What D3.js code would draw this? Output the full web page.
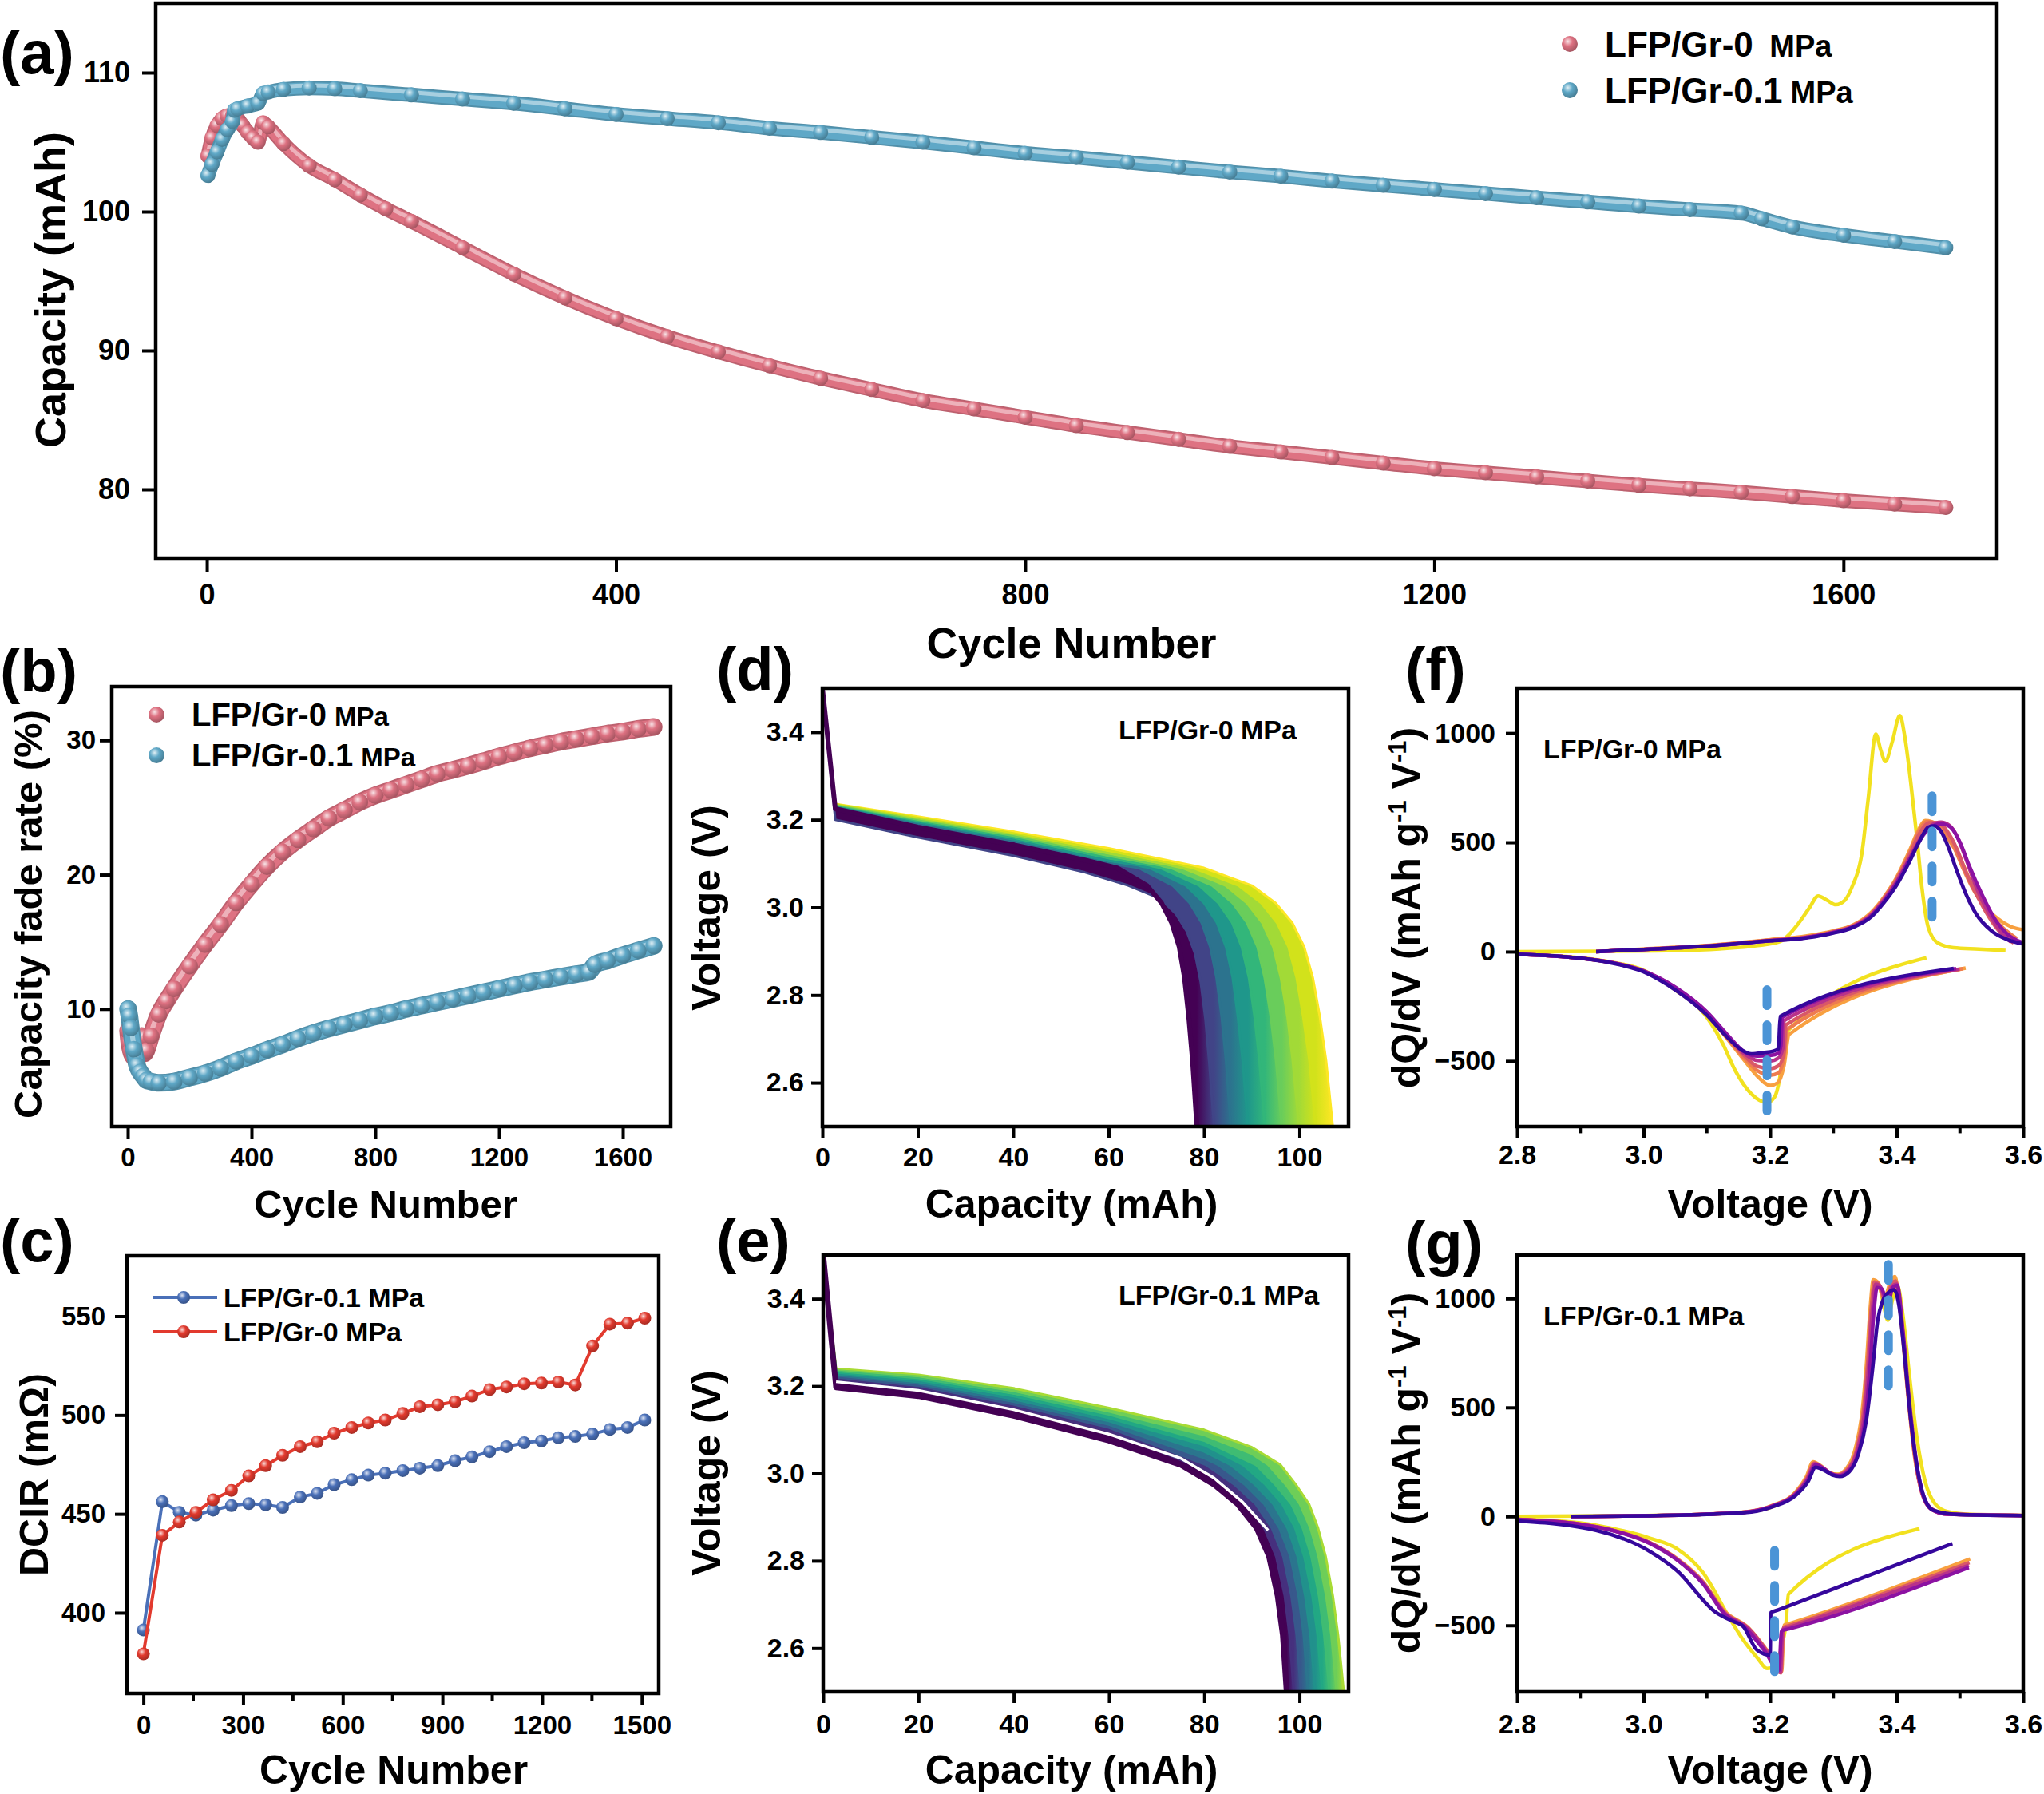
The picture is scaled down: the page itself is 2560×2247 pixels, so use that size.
<!DOCTYPE html>
<html>
<head>
<meta charset="utf-8">
<script src="https://cdn.jsdelivr.net/npm/d3@7"></script>
<style>
  body { margin: 0; background: #fff; }
</style>
</head>
<body>
<svg id="fig" width="2560" height="2247"></svg>
<script>
// ---------- data: (a) capacity vs cycle ----------
const aCycRed = [1,5,10,15,20,25,30,35,40,45,50,55,60,75,100,125,150,175,200,250,300,350,400,450,500,550,600,650,700,750,800,850,900,950,1000,1050,1100,1150,1200,1250,1300,1350,1400,1450,1500,1550,1600,1650,1700];
const aCapRed = [104.0,105.3,106.2,106.7,106.9,106.9,106.7,106.2,105.7,105.3,105.0,106.4,106.1,104.9,103.3,102.3,101.2,100.2,99.3,97.4,95.5,93.8,92.3,91.0,89.9,88.9,88.0,87.2,86.4,85.8,85.2,84.6,84.1,83.6,83.1,82.7,82.3,81.9,81.5,81.2,80.9,80.6,80.3,80.05,79.8,79.5,79.2,78.95,78.7];
const aCycBlue = [1,5,10,15,20,25,27,30,40,50,55,60,75,100,125,150,200,250,300,350,400,450,500,550,600,650,700,750,800,850,900,950,1000,1050,1100,1150,1200,1250,1300,1350,1400,1450,1500,1520,1550,1600,1650,1700];
const aCapBlue = [102.6,103.4,104.3,105.2,105.9,106.5,107.3,107.4,107.6,107.8,108.5,108.6,108.8,108.9,108.85,108.7,108.4,108.1,107.8,107.4,107.0,106.7,106.4,106.0,105.7,105.35,105.0,104.6,104.2,103.9,103.55,103.2,102.85,102.55,102.2,101.9,101.6,101.3,101.0,100.7,100.4,100.15,99.9,99.5,98.9,98.3,97.85,97.4];

// ---------- data: (b) capacity fade rate ----------
const bCycRed = [1,5,10,20,30,40,45,50,55,60,75,100,125,150,200,250,300,350,400,450,500,550,600,650,700,750,800,850,900,950,1000,1050,1100,1150,1200,1250,1300,1350,1400,1450,1500,1550,1600,1650,1700];
const bFadeRed = [8.4,7.5,6.9,6.4,6.3,6.8,8.0,7.9,6.7,6.9,8.0,9.6,10.6,11.5,13.2,14.8,16.3,17.9,19.3,20.6,21.7,22.6,23.4,24.2,24.8,25.4,25.9,26.3,26.7,27.1,27.5,27.8,28.1,28.45,28.8,29.1,29.4,29.65,29.9,30.1,30.3,30.5,30.65,30.85,31.0];
const bCycBlue = [1,5,10,20,30,40,50,60,75,100,150,200,250,300,350,400,450,500,550,600,650,700,750,800,850,900,950,1000,1050,1100,1150,1200,1250,1300,1350,1400,1450,1490,1510,1550,1600,1650,1700];
const bFadeBlue = [10.0,9.5,8.6,7.0,5.8,5.3,5.0,4.7,4.6,4.5,4.6,4.9,5.2,5.6,6.1,6.5,6.95,7.35,7.8,8.2,8.55,8.85,9.15,9.45,9.7,10.0,10.25,10.5,10.75,11.0,11.25,11.5,11.75,12.0,12.2,12.4,12.6,12.75,13.3,13.6,14.0,14.35,14.7];

// ---------- data: (c) DCIR ----------
const cCyc = [0,57,108,158,210,265,317,368,419,472,523,574,627,677,728,781,832,886,938,989,1042,1093,1146,1198,1249,1300,1352,1404,1457,1509];
const cDcirBlue = [391.3,456.2,450.8,449.4,451.9,454.2,455.2,454.6,453.3,458.5,460.4,464.8,467.3,469.6,470.6,471.9,473.1,474.4,476.9,478.8,481.5,484.0,486.0,486.9,488.5,489.2,490.4,492.7,493.7,497.5];
const cDcirRed = [379.2,439.2,445.9,450.8,457.1,461.9,469.2,474.4,479.6,484.0,486.5,490.8,493.7,496.0,497.5,500.8,504.2,505.2,506.7,509.6,512.9,514.2,515.8,516.2,516.7,515.2,535.0,546.0,546.5,549.0];

// ---------- data: (d) discharge curves, 0 MPa (last cycle first) ----------
const dCurves = [
  [[0,3.5],[2.7,3.225],[20,3.183],[40,3.143],[55,3.108],[61.8,3.09],[68,3.05],[71.1,3.01],[73.2,2.965],[74.8,2.91],[75.9,2.84],[76.8,2.75],[77.6,2.65],[78.5,2.5]],
  [[0,3.5],[2.7,3.2],[20,3.16],[40,3.118],[55,3.08],[64.1,3.05],[70.8,3.02],[74.1,2.985],[76.4,2.945],[78.1,2.895],[79.3,2.83],[80.3,2.745],[81.1,2.645],[82.1,2.5]],
  [[0,3.5],[2.7,3.228],[20,3.189],[40,3.15],[60,3.1],[66.3,3.09],[73.4,3.05],[77,3.01],[79.5,2.965],[81.3,2.91],[82.6,2.84],[83.7,2.75],[84.6,2.65],[85.6,2.5]],
  [[0,3.5],[2.7,3.229],[20,3.192],[40,3.154],[60,3.106],[68.6,3.09],[76.2,3.05],[80,3.01],[82.7,2.965],[84.6,2.91],[86,2.84],[87.1,2.75],[88.1,2.65],[89.2,2.5]],
  [[0,3.5],[2.7,3.23],[20,3.195],[40,3.158],[60,3.112],[70.9,3.09],[79,3.05],[83,3.01],[85.9,2.965],[87.9,2.91],[89.4,2.84],[90.6,2.75],[91.6,2.65],[92.75,2.5]],
  [[0,3.5],[2.7,3.232],[20,3.198],[40,3.162],[60,3.117],[73.1,3.09],[81.7,3.05],[86,3.01],[89,2.965],[91.2,2.91],[92.7,2.84],[94,2.75],[95.1,2.65],[96.3,2.5]],
  [[0,3.5],[2.7,3.233],[20,3.201],[40,3.165],[60,3.123],[75.5,3.09],[84.5,3.05],[89,3.01],[92.2,2.965],[94.5,2.91],[96.1,2.84],[97.5,2.75],[98.6,2.65],[99.9,2.5]],
  [[0,3.5],[2.7,3.235],[20,3.204],[40,3.169],[60,3.129],[77.7,3.09],[87.2,3.05],[92,3.01],[95.3,2.965],[97.7,2.91],[99.4,2.84],[100.8,2.75],[102.1,2.65],[103.4,2.5]],
  [[0,3.5],[2.7,3.236],[20,3.207],[40,3.173],[60,3.135],[80,3.09],[90,3.05],[95,3.01],[98.5,2.965],[101,2.91],[102.8,2.84],[104.3,2.75],[105.6,2.65],[107,2.5]]
];
// colour position (viridis) of each (d) curve
const dColorPos = [0, 0.2, 0.38, 0.53, 0.66, 0.77, 0.86, 0.93, 1.0];

// ---------- data: (e) discharge curves, 0.1 MPa ----------
const eCurves = [
  [[0,3.5],[2.7,3.197],[20,3.177],[40,3.132],[60,3.075],[75,3.02],[82,2.975],[87,2.93],[91,2.875],[93.6,2.81],[95.4,2.72],[96.5,2.63],[97.3,2.5]],
  [[0,3.5],[2.7,3.215],[20,3.195],[40,3.152],[60,3.097],[77.6,3.02],[84.2,2.975],[88.9,2.93],[92.6,2.875],[95.1,2.81],[96.9,2.72],[97.9,2.63],[98.8,2.5]],
  [[0,3.5],[2.7,3.219],[20,3.2],[40,3.158],[60,3.105],[80.3,3.02],[86.3,2.975],[90.8,2.93],[94.2,2.875],[96.6,2.81],[98.3,2.72],[99.4,2.63],[100.3,2.5]],
  [[0,3.5],[2.7,3.222],[20,3.204],[40,3.164],[60,3.112],[80,3.035],[82.9,3.02],[88.5,2.975],[92.6,2.93],[95.8,2.875],[98.1,2.81],[99.8,2.72],[100.9,2.63],[101.8,2.5]],
  [[0,3.5],[2.7,3.226],[20,3.209],[40,3.17],[60,3.12],[80,3.05],[85.5,3.02],[90.6,2.975],[94.5,2.93],[97.5,2.875],[99.6,2.81],[101.2,2.72],[102.3,2.63],[103.3,2.5]],
  [[0,3.5],[2.7,3.229],[20,3.213],[40,3.177],[60,3.127],[80,3.065],[88.1,3.02],[92.8,2.975],[96.4,2.93],[99.1,2.875],[101,2.81],[102.7,2.72],[103.8,2.63],[104.8,2.5]],
  [[0,3.5],[2.7,3.233],[20,3.217],[40,3.183],[60,3.135],[80,3.075],[90.8,3.02],[94.9,2.975],[98.3,2.93],[100.7,2.875],[102.5,2.81],[104.1,2.72],[105.2,2.63],[106.3,2.5]],
  [[0,3.5],[2.7,3.236],[20,3.222],[40,3.189],[60,3.142],[80,3.088],[90,3.045],[93.4,3.02],[97.1,2.975],[100.1,2.93],[102.3,2.875],[104,2.81],[105.6,2.72],[106.7,2.63],[107.8,2.5]],
  [[0,3.5],[2.7,3.24],[20,3.226],[40,3.195],[60,3.15],[80,3.1],[90,3.06],[96,3.02],[99.2,2.975],[102,2.93],[103.9,2.875],[105.5,2.81],[107,2.72],[108.1,2.63],[109.3,2.5]]
];
const eColorPos = [0, 0.14, 0.27, 0.39, 0.5, 0.6, 0.69, 0.78, 0.87];
const eWhite = [[2.7,3.21],[20,3.19],[40,3.146],[60,3.09],[75,3.035],[82,2.99],[88,2.935],[93.4,2.87]];

// ---------- data: (f) dQ/dV, 0 MPa ----------
const fYellowChg = [[2.8,0],[2.95,2],[3.05,5],[3.12,13],[3.18,28],[3.215,46],[3.245,130],[3.262,200],[3.276,255],[3.29,235],[3.304,215],[3.318,235],[3.33,300],[3.345,450],[3.355,700],[3.367,995],[3.375,920],[3.382,870],[3.393,960],[3.405,1080],[3.413,980],[3.422,780],[3.432,520],[3.44,290],[3.45,110],[3.465,40],[3.49,18],[3.53,12],[3.572,5]];
const fYellowDis = [[2.8,-10],[2.9,-28],[2.95,-48],[3.0,-85],[3.05,-175],[3.1,-300],[3.125,-420],[3.145,-545],[3.17,-650],[3.195,-690],[3.207,-665],[3.215,-580],[3.222,-430],[3.228,-362],[3.447,-28]];
const fOrangeChg = [[2.925,0],[3.0,12],[3.1,28],[3.2,55],[3.25,68],[3.3,95],[3.33,120],[3.36,180],[3.38,250],[3.4,340],[3.42,460],[3.435,560],[3.445,600],[3.455,595],[3.47,560],[3.485,500],[3.5,430],[3.515,330],[3.53,250],[3.545,190],[3.56,150],[3.58,115],[3.6,100]];
const fOrangeDis = [[2.8,-12],[2.9,-30],[2.95,-50],[3.0,-90],[3.05,-170],[3.1,-285],[3.13,-390],[3.16,-500],[3.18,-570],[3.2,-612],[3.212,-600],[3.222,-520],[3.23,-378],[3.509,-75]];
const fSalmonChg = [[2.925,0],[3.0,11],[3.1,27],[3.2,53],[3.25,65],[3.3,92],[3.33,118],[3.36,175],[3.38,245],[3.4,335],[3.42,450],[3.435,550],[3.448,595],[3.46,590],[3.475,545],[3.49,480],[3.505,380],[3.52,290],[3.54,200],[3.56,130],[3.58,80],[3.59,60]];
const fSalmonDis = [[2.8,-12],[2.9,-30],[2.95,-50],[3.0,-90],[3.05,-168],[3.1,-282],[3.13,-385],[3.16,-490],[3.18,-545],[3.2,-565],[3.213,-555],[3.222,-480],[3.227,-355],[3.505,-78]];
const fPinkChg = [[2.925,0],[3.0,10],[3.1,26],[3.2,52],[3.25,63],[3.3,90],[3.33,116],[3.36,172],[3.38,242],[3.4,330],[3.42,440],[3.437,545],[3.452,590],[3.465,590],[3.48,550],[3.495,470],[3.51,360],[3.53,240],[3.55,140],[3.57,70],[3.585,40]];
const fPinkDis = [[2.8,-12],[2.9,-30],[2.95,-50],[3.0,-89],[3.05,-166],[3.1,-280],[3.13,-380],[3.16,-478],[3.18,-525],[3.2,-535],[3.214,-520],[3.222,-460],[3.225,-335],[3.5,-80]];
const fMagentaChg = [[2.925,0],[3.0,10],[3.1,25],[3.2,50],[3.25,62],[3.3,88],[3.33,113],[3.36,168],[3.38,236],[3.4,320],[3.42,425],[3.44,530],[3.455,578],[3.47,592],[3.482,580],[3.495,530],[3.51,420],[3.525,300],[3.545,180],[3.565,90],[3.58,45]];
const fMagentaDis = [[2.8,-12],[2.9,-30],[2.95,-50],[3.0,-88],[3.05,-164],[3.1,-278],[3.13,-378],[3.16,-468],[3.18,-498],[3.2,-500],[3.214,-485],[3.22,-440],[3.222,-315],[3.498,-80]];
const fPurpleChg = [[2.925,0],[3.0,10],[3.1,25],[3.2,50],[3.25,62],[3.3,88],[3.33,112],[3.36,165],[3.38,232],[3.4,315],[3.42,420],[3.44,525],[3.457,575],[3.47,585],[3.485,570],[3.5,500],[3.515,390],[3.535,260],[3.555,150],[3.575,80],[3.6,40]];
const fPurpleDis = [[2.8,-12],[2.9,-30],[2.95,-50],[3.0,-88],[3.05,-162],[3.1,-275],[3.13,-372],[3.16,-460],[3.18,-478],[3.2,-475],[3.213,-465],[3.217,-430],[3.219,-300],[3.494,-78]];
const fNavyChg = [[2.925,0],[3.0,10],[3.1,25],[3.2,50],[3.25,60],[3.3,85],[3.33,110],[3.36,160],[3.38,225],[3.4,305],[3.42,410],[3.437,510],[3.45,570],[3.46,575],[3.47,550],[3.48,490],[3.495,370],[3.51,260],[3.525,175],[3.55,95],[3.575,55],[3.6,35]];
const fNavyDis = [[2.8,-12],[2.9,-30],[2.95,-52],[3.0,-92],[3.05,-175],[3.1,-290],[3.13,-385],[3.155,-450],[3.17,-468],[3.19,-462],[3.205,-455],[3.213,-445],[3.216,-296],[3.49,-77]];
const fDashV = [3.456, 3.195];
const fDashFrom = [127, -760];
const fDashTo = [713, -174];

// ---------- data: (g) dQ/dV, 0.1 MPa ----------
const gYellowChg = [[2.8,0],[2.9,2],[3.0,4],[3.1,10],[3.17,22],[3.205,45],[3.235,95],[3.255,165],[3.27,240],[3.282,222],[3.295,198],[3.31,192],[3.325,225],[3.34,320],[3.35,500],[3.358,780],[3.365,1030],[3.372,1060],[3.38,960],[3.386,900],[3.393,990],[3.401,1060],[3.41,920],[3.42,650],[3.432,360],[3.445,160],[3.46,60],[3.48,22],[3.52,8],[3.6,4]];
const gYellowDis = [[2.8,-12],[2.9,-30],[2.95,-55],[3.01,-100],[3.052,-147],[3.094,-259],[3.136,-467],[3.157,-565],[3.18,-650],[3.195,-698],[3.207,-690],[3.218,-600],[3.225,-491],[3.229,-357],[3.436,-56]];
const gOrangeChg = [[2.885,0],[3.0,3],[3.1,10],[3.17,24],[3.205,52],[3.24,110],[3.257,180],[3.268,250],[3.28,232],[3.293,202],[3.306,192],[3.32,218],[3.335,315],[3.345,470],[3.352,690],[3.358,950],[3.363,1085],[3.37,1075],[3.38,995],[3.39,1075],[3.397,1100],[3.407,900],[3.417,580],[3.428,280],[3.44,110],[3.455,35],[3.48,12],[3.53,8],[3.6,5]];
const gOrangeDis = [[2.8,-14],[2.9,-36],[2.95,-62],[3.01,-120],[3.052,-192],[3.094,-300],[3.128,-435],[3.166,-512],[3.195,-615],[3.218,-712],[3.222,-500],[3.233,-490],[3.516,-195]];
const gPinkChg = [[2.885,0],[3.0,3],[3.1,10],[3.17,23],[3.205,50],[3.24,106],[3.258,175],[3.27,245],[3.281,228],[3.294,200],[3.307,190],[3.322,215],[3.337,310],[3.347,470],[3.354,700],[3.36,960],[3.365,1075],[3.372,1065],[3.382,990],[3.392,1065],[3.398,1080],[3.408,880],[3.418,560],[3.429,270],[3.44,105],[3.455,33],[3.48,10],[3.6,4]];
const gPinkDis = [[2.8,-14],[2.9,-36],[2.95,-63],[3.01,-121],[3.052,-194],[3.094,-303],[3.128,-440],[3.166,-514],[3.195,-618],[3.217,-718],[3.221,-510],[3.232,-500],[3.515,-212]];
const gMagentaChg = [[2.885,0],[3.0,3],[3.1,10],[3.17,23],[3.205,49],[3.24,103],[3.259,172],[3.271,240],[3.282,225],[3.295,198],[3.308,188],[3.323,212],[3.338,305],[3.349,470],[3.356,700],[3.362,960],[3.367,1065],[3.374,1055],[3.384,985],[3.393,1055],[3.4,1065],[3.409,860],[3.419,540],[3.43,260],[3.441,100],[3.456,30],[3.48,10],[3.6,4]];
const gMagentaDis = [[2.8,-14],[2.9,-36],[2.95,-63],[3.01,-122],[3.052,-196],[3.094,-306],[3.128,-444],[3.166,-516],[3.193,-615],[3.216,-715],[3.22,-518],[3.231,-508],[3.514,-225]];
const gPurpleChg = [[2.885,0],[3.0,3],[3.1,10],[3.17,22],[3.205,48],[3.24,100],[3.26,170],[3.272,236],[3.283,222],[3.296,196],[3.309,186],[3.324,208],[3.34,300],[3.351,465],[3.358,690],[3.364,940],[3.369,1050],[3.376,1045],[3.386,980],[3.394,1050],[3.401,1060],[3.41,850],[3.42,530],[3.431,255],[3.442,98],[3.457,30],[3.48,10],[3.6,4]];
const gPurpleDis = [[2.8,-15],[2.9,-37],[2.95,-64],[3.01,-124],[3.052,-198],[3.094,-310],[3.126,-442],[3.162,-515],[3.19,-612],[3.214,-705],[3.218,-525],[3.23,-516],[3.514,-235]];
const gNavyChg = [[2.885,0],[3.0,3],[3.1,9],[3.17,20],[3.205,45],[3.24,95],[3.26,160],[3.272,225],[3.285,212],[3.298,190],[3.31,183],[3.325,205],[3.34,290],[3.352,440],[3.362,680],[3.37,900],[3.378,990],[3.388,1030],[3.396,1040],[3.404,960],[3.413,720],[3.422,450],[3.432,230],[3.443,90],[3.458,28],[3.5,8],[3.6,4]];
const gNavyDis = [[2.8,-21],[2.925,-64],[3.01,-161],[3.052,-247],[3.115,-442],[3.14,-480],[3.157,-503],[3.179,-613],[3.2,-637],[3.201,-442],[3.212,-430],[3.488,-125]];
const gDashV = [3.387, 3.207];
const gDashFrom = [563, -765];
const gDashTo = [1156, -156];

// ---------- colours ----------
const RED_A = "#de7282", BLUE_A = "#5fa8c7";
const RED_C = "#e23a2e", BLUE_C = "#4a70b8";
const DASH = "#4b94d6";
const PL = { yellow: "#f2e11f", orange: "#f8a040", salmon: "#ee7c4f", pink: "#d95868", magenta: "#b8328a", purple: "#8c12a2", navy: "#35079c" };

const FONT = '"Liberation Sans", Arial, Helvetica, sans-serif';
const svg = d3.select("#fig");
const defs = svg.append("defs");

function txt(parent, x, y, s, fs, anchor) {
  return parent.append("text").attr("x", x).attr("y", y)
    .attr("font-size", fs).attr("font-family", FONT).attr("font-weight", "bold")
    .attr("text-anchor", anchor || "start").attr("fill", "#000").text(s);
}

function sphere(id, base) {
  const rg = defs.append("radialGradient").attr("id", id).attr("cx", "38%").attr("cy", "34%").attr("r", "66%");
  rg.append("stop").attr("offset", "0%").attr("stop-color", d3.interpolateRgb(base, "#fff")(0.8));
  rg.append("stop").attr("offset", "45%").attr("stop-color", base);
  rg.append("stop").attr("offset", "100%").attr("stop-color", d3.interpolateRgb(base, "#000")(0.25));
}
sphere("sRedA", RED_A); sphere("sBlueA", BLUE_A);
sphere("sRedC", RED_C); sphere("sBlueC", BLUE_C);

function panel(o) {
  const x = d3.scaleLinear().domain(o.xd).range([o.L, o.R]);
  const y = d3.scaleLinear().domain(o.yd).range([o.B, o.T]);
  const g = svg.append("g");
  const gx = g.append("g").attr("transform", `translate(0,${o.B})`)
    .call(d3.axisBottom(x).tickValues(o.xt).tickSize(o.tl).tickPadding(o.xp).tickFormat(d3.format(o.xf || "d")));
  const gy = g.append("g").attr("transform", `translate(${o.L},0)`)
    .call(d3.axisLeft(y).tickValues(o.yt).tickSize(o.tl).tickPadding(o.yp).tickFormat(d3.format(o.yf || "d")));
  [gx, gy].forEach(a => {
    a.select(".domain").remove();
    a.attr("font-size", o.fs).attr("font-family", FONT).attr("font-weight", "bold");
    a.selectAll("line").attr("stroke", "#000").attr("stroke-width", 4);
    a.selectAll("text").attr("fill", "#000");
  });
  if (o.xm) {
    g.selectAll(null).data(o.xm).enter().append("line")
      .attr("x1", d => x(d)).attr("x2", d => x(d)).attr("y1", o.B).attr("y2", o.B + o.tl * 0.6)
      .attr("stroke", "#000").attr("stroke-width", 4);
  }
  defs.append("clipPath").attr("id", "clip" + o.id).append("rect")
    .attr("x", o.L).attr("y", o.T).attr("width", o.R - o.L).attr("height", o.B - o.T);
  const plot = g.append("g").attr("clip-path", `url(#clip${o.id})`);
  const over = g.append("g");
  g.append("rect").attr("x", o.L).attr("y", o.T).attr("width", o.R - o.L).attr("height", o.B - o.T)
    .attr("fill", "none").attr("stroke", "#000").attr("stroke-width", 4.5);
  txt(g, o.xtx, o.xty, o.xTitle, o.tfs, "middle");
  const yt = g.append("text").attr("transform", `translate(${o.ytx},${o.yty}) rotate(-90)`)
    .attr("text-anchor", "middle").attr("font-size", o.tfs).attr("font-family", FONT)
    .attr("font-weight", "bold").attr("fill", "#000");
  if (o.yTitle) yt.text(o.yTitle);
  txt(svg, o.lx, o.ly, o.label, 76);
  return { x, y, plot, over, yt };
}

// dense sphere band (a, b)
function band(p, xs, vs, base, gid, w, r) {
  const pts = xs.map((c, i) => [c, vs[i]]);
  const line = d3.line().x(d => p.x(d[0])).y(d => p.y(d[1])).curve(d3.curveMonotoneX);
  const common = s => s.attr("fill", "none").attr("stroke-linecap", "round").attr("stroke-linejoin", "round");
  common(p.plot.append("path").attr("d", line(pts)).attr("stroke", d3.interpolateRgb(base, "#000")(0.15)).attr("stroke-width", w));
  common(p.plot.append("path").attr("d", line(pts)).attr("stroke", base).attr("stroke-width", w - 4));
  common(p.plot.append("path").attr("d", line(pts)).attr("stroke", d3.interpolateRgb(base, "#fff")(0.45))
    .attr("stroke-width", w * 0.28).attr("transform", `translate(0,${-w * 0.18})`));
  p.plot.selectAll(null).data(pts).enter().append("circle")
    .attr("cx", d => p.x(d[0])).attr("cy", d => p.y(d[1])).attr("r", r).attr("fill", `url(#${gid})`);
}

function sphereLegend(g, cx, cy, gid, main, unit, fs1, fs2) {
  g.append("circle").attr("cx", cx).attr("cy", cy).attr("r", 10).attr("fill", `url(#${gid})`);
  const t = txt(g, cx + 44, cy + fs1 * 0.36, "", fs1);
  t.append("tspan").text(main);
  t.append("tspan").attr("dx", 10).attr("font-size", fs2).text(unit);
}

// ================= (a) =================
const pa = panel({ id: "a", L: 195, R: 2501, T: 4, B: 700, xd: [-50, 1750], yd: [75, 115],
  xt: [0, 400, 800, 1200, 1600], yt: [80, 90, 100, 110], tl: 17, xp: 14, yp: 15, fs: 36,
  xTitle: "Cycle Number", xtx: 1342, xty: 824, yTitle: "Capacity (mAh)", ytx: 82, yty: 363, tfs: 54,
  label: "(a)", lx: 0, ly: 92 });
band(pa, aCycRed, aCapRed, RED_A, "sRedA", 18, 9.5);
band(pa, aCycBlue, aCapBlue, BLUE_A, "sBlueA", 18, 9.5);
sphereLegend(svg, 1966, 55, "sRedA", "LFP/Gr-0", " MPa", 44, 38);
sphereLegend(svg, 1966, 113, "sBlueA", "LFP/Gr-0.1", "MPa", 44, 38);

// ================= (b) =================
const pb = panel({ id: "b", L: 140, R: 840, T: 860, B: 1411, xd: [-51.6, 1754.8], yd: [1.25, 34],
  xt: [0, 400, 800, 1200, 1600], yt: [10, 20, 30], tl: 15, xp: 12, yp: 5, fs: 33,
  xTitle: "Cycle Number", xtx: 483, xty: 1525, yTitle: "Capacity fade rate (%)", ytx: 52, yty: 1145, tfs: 49,
  label: "(b)", lx: 0, ly: 866 });
band(pb, bCycRed, bFadeRed, RED_A, "sRedA", 22, 10.5);
band(pb, bCycBlue, bFadeBlue, BLUE_A, "sBlueA", 22, 10.5);
sphereLegend(svg, 196, 895, "sRedA", "LFP/Gr-0", "MPa", 40, 33);
sphereLegend(svg, 196, 946, "sBlueA", "LFP/Gr-0.1", "MPa", 40, 33);

// ================= (c) =================
const pc = panel({ id: "c", L: 159, R: 825, T: 1573, B: 2121, xd: [-49.5, 1551], yd: [359.2, 580.5],
  xt: [0, 300, 600, 900, 1200, 1500], xm: [150, 450, 750, 1050, 1350], yt: [400, 450, 500, 550],
  tl: 15, xp: 13, yp: 12, fs: 33,
  xTitle: "Cycle Number", xtx: 493, xty: 2234, yTitle: "DCIR (mΩ)", ytx: 60, yty: 1847, tfs: 50,
  label: "(c)", lx: 0, ly: 1580 });
function dotLine(p, xs, vs, color, gid) {
  const pts = xs.map((c, i) => [c, vs[i]]);
  p.over.append("path").attr("d", d3.line().x(d => p.x(d[0])).y(d => p.y(d[1]))(pts))
    .attr("fill", "none").attr("stroke", color).attr("stroke-width", 4);
  p.over.selectAll(null).data(pts).enter().append("circle")
    .attr("cx", d => p.x(d[0])).attr("cy", d => p.y(d[1])).attr("r", 8).attr("fill", `url(#${gid})`);
}
dotLine(pc, cCyc, cDcirBlue, BLUE_C, "sBlueC");
dotLine(pc, cCyc, cDcirRed, RED_C, "sRedC");
[[1625, BLUE_C, "sBlueC", "LFP/Gr-0.1 MPa"], [1668, RED_C, "sRedC", "LFP/Gr-0 MPa"]].forEach(([ly, col, gid, s]) => {
  svg.append("line").attr("x1", 191).attr("x2", 272).attr("y1", ly).attr("y2", ly).attr("stroke", col).attr("stroke-width", 4);
  svg.append("circle").attr("cx", 230).attr("cy", ly).attr("r", 8).attr("fill", `url(#${gid})`);
  txt(svg, 280, ly + 12, s, 34);
});

// ================= (d) & (e) =================
let gradN = 0;
function fan(p, curves, pos, thick, white) {
  const line = d3.line().x(d => p.x(d[0])).y(d => p.y(d[1]));
  const n = curves.length - 1;
  const col = k => d3.interpolateViridis(pos[k]);
  for (let k = n; k > 0; k--) {
    const id = "fg" + (gradN++);
    const a = curves[k - 1], b = curves[k];
    const lg = defs.append("linearGradient").attr("id", id).attr("gradientUnits", "userSpaceOnUse")
      .attr("x1", p.x(a[a.length - 1][0])).attr("x2", p.x(b[b.length - 1][0])).attr("y1", 0).attr("y2", 0);
    lg.append("stop").attr("offset", "0%").attr("stop-color", col(k - 1));
    lg.append("stop").attr("offset", "100%").attr("stop-color", col(k));
    p.plot.append("path").attr("d", line(b.concat(a.slice().reverse())) + "Z").attr("fill", `url(#${id})`);
  }
  for (let k = n; k >= 0; k--) {
    p.plot.append("path").attr("d", line(curves[k])).attr("fill", "none")
      .attr("stroke", col(k)).attr("stroke-width", k === 0 ? thick : 3).attr("stroke-linejoin", "round");
  }
  if (white) {
    p.plot.append("path").attr("d", line(white)).attr("fill", "none").attr("stroke", "#fff").attr("stroke-width", 3.5);
  }
}
const vFmt = { xt: [0, 20, 40, 60, 80, 100], yt: [2.6, 2.8, 3.0, 3.2, 3.4], yf: ".1f", tl: 14, yp: 9, fs: 34,
  xTitle: "Capacity (mAh)", xtx: 1342, yTitle: "Voltage (V)", ytx: 902, tfs: 50, xd: [0, 110.3], yd: [2.5, 3.5] };
const pd = panel(Object.assign({}, vFmt, { id: "d", L: 1030, R: 1689, T: 862, B: 1411, xp: 12,
  xty: 1525, yty: 1137, label: "(d)", lx: 897, ly: 864 }));
fan(pd, dCurves, dColorPos, 6);
txt(svg, 1401, 926, "LFP/Gr-0 MPa", 34);
const pe = panel(Object.assign({}, vFmt, { id: "e", L: 1031, R: 1689, T: 1572, B: 2119, xp: 14,
  xty: 2234, yty: 1845, label: "(e)", lx: 897, ly: 1580 }));
fan(pe, eCurves, eColorPos, 7, eWhite);
txt(svg, 1401, 1634, "LFP/Gr-0.1 MPa", 34);

// ================= (f) & (g) =================
function dqTitle(p) {
  p.yt.append("tspan").text("dQ/dV (mAh g");
  p.yt.append("tspan").attr("dy", -17).attr("font-size", 31).text("-1");
  p.yt.append("tspan").attr("dy", 17).text(" V");
  p.yt.append("tspan").attr("dy", -17).attr("font-size", 31).text("-1");
  p.yt.append("tspan").attr("dy", 17).text(")");
}
function dq(p, series, dv, d0, d1) {
  const line = d3.line().x(d => p.x(d[0])).y(d => p.y(d[1])).curve(d3.curveMonotoneX);
  series.forEach(s => {
    [s.chg, s.dis].forEach(arr => p.plot.append("path").attr("d", line(arr)).attr("fill", "none")
      .attr("stroke", s.c).attr("stroke-width", 4.5).attr("stroke-linejoin", "round"));
  });
  dv.forEach((v, i) => {
    p.plot.append("line").attr("x1", p.x(v)).attr("x2", p.x(v)).attr("y1", p.y(d1[i])).attr("y2", p.y(d0[i]))
      .attr("stroke", DASH).attr("stroke-width", 11).attr("stroke-linecap", "round").attr("stroke-dasharray", "20 24");
  });
}
const qFmt = { L: 1900, R: 2534, xd: [2.8, 3.6], xt: [2.8, 3.0, 3.2, 3.4, 3.6], xm: [2.9, 3.1, 3.3, 3.5],
  yt: [-500, 0, 500, 1000], xf: ".1f", tl: 14, yp: 13, fs: 34,
  xTitle: "Voltage (V)", xtx: 2217, ytx: 1778, tfs: 50 };
const pf = panel(Object.assign({}, qFmt, { id: "f", T: 862, B: 1411, yd: [-800, 1205], xp: 9,
  xty: 1525, yty: 1137, label: "(f)", lx: 1760, ly: 864 }));
dqTitle(pf);
dq(pf, [
  { c: PL.yellow, chg: fYellowChg, dis: fYellowDis },
  { c: PL.orange, chg: fOrangeChg, dis: fOrangeDis },
  { c: PL.salmon, chg: fSalmonChg, dis: fSalmonDis },
  { c: PL.pink, chg: fPinkChg, dis: fPinkDis },
  { c: PL.magenta, chg: fMagentaChg, dis: fMagentaDis },
  { c: PL.purple, chg: fPurpleChg, dis: fPurpleDis },
  { c: PL.navy, chg: fNavyChg, dis: fNavyDis }
], fDashV, fDashFrom, fDashTo);
txt(svg, 1933, 950, "LFP/Gr-0 MPa", 34);

const pg = panel(Object.assign({}, qFmt, { id: "g", T: 1572, B: 2119, yd: [-805, 1199], xp: 14,
  xty: 2234, yty: 1845, label: "(g)", lx: 1760, ly: 1583 }));
dqTitle(pg);
dq(pg, [
  { c: PL.yellow, chg: gYellowChg, dis: gYellowDis },
  { c: PL.orange, chg: gOrangeChg, dis: gOrangeDis },
  { c: PL.pink, chg: gPinkChg, dis: gPinkDis },
  { c: PL.magenta, chg: gMagentaChg, dis: gMagentaDis },
  { c: PL.purple, chg: gPurpleChg, dis: gPurpleDis },
  { c: PL.navy, chg: gNavyChg, dis: gNavyDis }
], gDashV, gDashFrom, gDashTo);
txt(svg, 1933, 1660, "LFP/Gr-0.1 MPa", 34);
</script>
</body>
</html>
